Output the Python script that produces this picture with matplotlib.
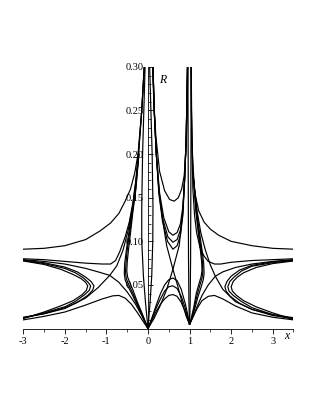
import matplotlib.pyplot as plt
import numpy as np

plt.rcParams['font.family'] = ['Liberation Serif', 'DejaVu Serif']
plt.rcParams['axes.unicode_minus'] = False

# ---- curves, (x, R) pairs ----
# left of x = 0
top_l = [(-3.0, 0.091), (-2.5, 0.092), (-2.0, 0.095), (-1.5, 0.102), (-1.15, 0.112), (-0.9, 0.121),
         (-0.7, 0.132), (-0.55, 0.146), (-0.42, 0.16), (-0.32, 0.178), (-0.24, 0.2), (-0.15, 0.25), (-0.09, 0.30)]
flat_l = [(-3.0, 0.080), (-2.5, 0.079), (-2.0, 0.077), (-1.5, 0.075), (-1.1, 0.074), (-0.9, 0.074),
          (-0.78, 0.078), (-0.68, 0.088), (-0.55, 0.105), (-0.45, 0.122), (-0.36, 0.145), (-0.28, 0.175),
          (-0.22, 0.205), (-0.15, 0.25), (-0.09, 0.30)]
down_l = [(-3.0, 0.079), (-2.5, 0.077), (-2.0, 0.074), (-1.5, 0.069), (-1.2, 0.065), (-0.92, 0.061),
          (-0.7, 0.053), (-0.5, 0.042), (-0.3, 0.028), (-0.15, 0.015), (0.0, 0.0)]
up_l = [(-3.0, 0.013), (-2.5, 0.017), (-2.0, 0.023), (-1.5, 0.035), (-1.2, 0.047), (-0.92, 0.061),
        (-0.75, 0.072), (-0.6, 0.09), (-0.48, 0.112), (-0.38, 0.137), (-0.3, 0.165), (-0.23, 0.2),
        (-0.15, 0.25), (-0.09, 0.30)]
bump_l = [(-3.0, 0.010), (-2.5, 0.014), (-2.0, 0.019), (-1.5, 0.027), (-1.1, 0.034), (-0.85, 0.0375),
          (-0.7, 0.038), (-0.55, 0.035), (-0.4, 0.028), (-0.25, 0.018), (-0.1, 0.007), (0.0, 0.0)]
c_l1 = [(-3.0, 0.0775), (-2.5, 0.0735), (-2.1, 0.068), (-1.8, 0.062), (-1.6, 0.057), (-1.5, 0.053),
        (-1.45, 0.049), (-1.48, 0.044), (-1.58, 0.039), (-1.8, 0.032), (-2.1, 0.026), (-2.5, 0.019), (-3.0, 0.0115)]
c_l2 = [(-3.0, 0.078), (-2.5, 0.0745), (-2.0, 0.069), (-1.75, 0.064), (-1.55, 0.058), (-1.44, 0.053),
        (-1.38, 0.049), (-1.41, 0.044), (-1.52, 0.039), (-1.75, 0.031), (-2.0, 0.025), (-2.5, 0.018), (-3.0, 0.012)]
c_l3 = [(-3.0, 0.0785), (-2.5, 0.0755), (-2.0, 0.0705), (-1.7, 0.065), (-1.5, 0.059), (-1.37, 0.054),
        (-1.30, 0.049), (-1.33, 0.044), (-1.45, 0.038), (-1.7, 0.030), (-2.0, 0.024), (-2.5, 0.017), (-3.0, 0.0125)]
curl_l1 = [(-0.22, 0.2), (-0.3, 0.16), (-0.38, 0.135), (-0.46, 0.11), (-0.52, 0.09), (-0.56, 0.075),
           (-0.57, 0.063), (-0.55, 0.056), (-0.5, 0.050), (-0.4, 0.041), (-0.28, 0.029), (-0.15, 0.016), (0.0, 0.0)]
curl_l2 = [(-0.22, 0.2), (-0.3, 0.16), (-0.37, 0.135), (-0.44, 0.11), (-0.5, 0.09), (-0.53, 0.075),
           (-0.54, 0.064), (-0.52, 0.057), (-0.47, 0.051), (-0.38, 0.042), (-0.27, 0.03), (-0.14, 0.016), (0.0, 0.0)]
curl_l3 = [(-0.22, 0.2), (-0.29, 0.16), (-0.36, 0.135), (-0.42, 0.11), (-0.47, 0.09), (-0.5, 0.076),
           (-0.51, 0.066), (-0.49, 0.059), (-0.44, 0.053), (-0.36, 0.044), (-0.26, 0.031), (-0.13, 0.016), (0.0, 0.0)]
spin0_l = [(0.0, 0.0), (-0.06, 0.03), (-0.11, 0.06), (-0.15, 0.1), (-0.15, 0.14), (-0.13, 0.2),
           (-0.1, 0.25), (-0.07, 0.30)]
spin0_r = [(0.0, 0.0), (0.05, 0.03), (0.09, 0.06), (0.115, 0.1), (0.12, 0.14), (0.1, 0.2),
           (0.07, 0.25), (0.04, 0.30)]

# between x = 0 and x = 1
u_top = [(0.11, 0.30), (0.14, 0.26), (0.19, 0.22), (0.28, 0.18), (0.4, 0.158), (0.52, 0.148), (0.63, 0.146),
         (0.73, 0.150), (0.81, 0.16), (0.87, 0.175), (0.91, 0.20), (0.94, 0.24), (0.96, 0.30)]
u_m1 = [(0.12, 0.30), (0.15, 0.25), (0.2, 0.2), (0.28, 0.155), (0.38, 0.127), (0.5, 0.111), (0.6, 0.107),
        (0.7, 0.110), (0.78, 0.12), (0.84, 0.14), (0.88, 0.17), (0.92, 0.22), (0.95, 0.30)]
u_m2 = [(0.12, 0.30), (0.15, 0.25), (0.2, 0.2), (0.27, 0.155), (0.36, 0.125), (0.48, 0.105), (0.6, 0.099),
        (0.7, 0.102), (0.78, 0.113), (0.84, 0.135), (0.88, 0.17), (0.92, 0.22), (0.95, 0.30)]
u_m3 = [(0.12, 0.30), (0.15, 0.25), (0.2, 0.2), (0.26, 0.155), (0.35, 0.123), (0.47, 0.1), (0.6, 0.091),
        (0.7, 0.095), (0.78, 0.107), (0.84, 0.13), (0.88, 0.17), (0.92, 0.22), (0.95, 0.30)]
x_a = [(0.12, 0.30), (0.15, 0.25), (0.2, 0.2), (0.26, 0.16), (0.35, 0.125), (0.45, 0.095), (0.6, 0.068),
       (0.72, 0.048), (0.82, 0.03), (0.92, 0.014), (1.0, 0.005)]
x_b = [(0.95, 0.30), (0.92, 0.22), (0.88, 0.17), (0.83, 0.13), (0.75, 0.095), (0.6, 0.068), (0.45, 0.045),
       (0.3, 0.027), (0.15, 0.012), (0.0, 0.0)]
b_m1 = [(0.0, 0.0), (0.1, 0.013), (0.2, 0.027), (0.3, 0.040), (0.4, 0.050), (0.5, 0.056), (0.6, 0.058),
        (0.7, 0.055), (0.8, 0.045), (0.9, 0.028), (0.96, 0.015), (1.0, 0.005)]
b_m2 = [(0.0, 0.0), (0.1, 0.012), (0.2, 0.024), (0.3, 0.034), (0.4, 0.043), (0.5, 0.048), (0.6, 0.049),
        (0.7, 0.046), (0.8, 0.037), (0.9, 0.023), (0.96, 0.012), (1.0, 0.005)]
b_m3 = [(0.0, 0.0), (0.1, 0.010), (0.2, 0.020), (0.3, 0.028), (0.4, 0.034), (0.5, 0.038), (0.6, 0.039),
        (0.7, 0.037), (0.8, 0.030), (0.9, 0.019), (0.96, 0.010), (1.0, 0.005)]
spin1_l = [(1.0, 0.005), (0.985, 0.03), (0.975, 0.08), (0.97, 0.15), (0.965, 0.22), (0.96, 0.30)]
spin1_r = [(1.0, 0.005), (1.015, 0.03), (1.025, 0.08), (1.03, 0.15), (1.035, 0.22), (1.035, 0.30)]

# right of x = 1
top_r = [(3.5, 0.091), (3.0, 0.092), (2.5, 0.095), (2.0, 0.100), (1.7, 0.107), (1.5, 0.114), (1.35, 0.122),
         (1.22, 0.135), (1.13, 0.155), (1.08, 0.18), (1.055, 0.22), (1.04, 0.30)]
flat_r = [(3.5, 0.080), (3.0, 0.079), (2.5, 0.078), (2.0, 0.076), (1.75, 0.074), (1.6, 0.074), (1.45, 0.077),
          (1.35, 0.083), (1.25, 0.093), (1.17, 0.11), (1.12, 0.13), (1.08, 0.16), (1.06, 0.2), (1.045, 0.25),
          (1.04, 0.30)]
down_r = [(3.5, 0.079), (3.0, 0.077), (2.5, 0.074), (2.1, 0.07), (1.8, 0.065), (1.62, 0.06), (1.45, 0.05),
          (1.3, 0.038), (1.18, 0.025), (1.08, 0.013), (1.0, 0.005)]
up_r = [(3.5, 0.0125), (3.0, 0.016), (2.5, 0.022), (2.1, 0.031), (1.8, 0.045), (1.62, 0.06), (1.5, 0.073),
        (1.38, 0.09), (1.27, 0.11), (1.18, 0.135), (1.11, 0.165), (1.07, 0.2), (1.045, 0.25), (1.04, 0.30)]
bump_r = [(3.5, 0.010), (3.0, 0.013), (2.5, 0.018), (2.1, 0.026), (1.8, 0.034), (1.6, 0.038), (1.45, 0.037),
          (1.3, 0.032), (1.18, 0.023), (1.08, 0.013), (1.0, 0.005)]
c_r1 = [(3.5, 0.0775), (3.0, 0.0745), (2.6, 0.070), (2.3, 0.064), (2.15, 0.059), (2.05, 0.054), (2.0, 0.048),
        (2.03, 0.043), (2.13, 0.038), (2.3, 0.032), (2.6, 0.025), (3.0, 0.018), (3.5, 0.0105)]
c_r2 = [(3.5, 0.078), (3.0, 0.0755), (2.5, 0.0715), (2.25, 0.066), (2.07, 0.059), (1.97, 0.054), (1.92, 0.048),
        (1.95, 0.043), (2.05, 0.038), (2.25, 0.031), (2.5, 0.024), (3.0, 0.016), (3.5, 0.011)]
c_r3 = [(3.5, 0.0785), (3.0, 0.0765), (2.5, 0.0725), (2.2, 0.067), (2.0, 0.06), (1.9, 0.054), (1.85, 0.048),
        (1.88, 0.043), (1.98, 0.037), (2.2, 0.029), (2.5, 0.022), (3.0, 0.015), (3.5, 0.0115)]
curl_r1 = [(1.1, 0.17), (1.17, 0.135), (1.24, 0.11), (1.3, 0.09), (1.34, 0.075), (1.35, 0.063), (1.33, 0.056),
           (1.28, 0.048), (1.2, 0.036), (1.12, 0.022), (1.05, 0.011), (1.0, 0.005)]
curl_r2 = [(1.1, 0.17), (1.16, 0.135), (1.22, 0.11), (1.28, 0.09), (1.31, 0.076), (1.32, 0.065), (1.3, 0.058),
           (1.25, 0.05), (1.18, 0.038), (1.11, 0.023), (1.05, 0.011), (1.0, 0.005)]
curl_r3 = [(1.1, 0.17), (1.15, 0.135), (1.21, 0.11), (1.26, 0.09), (1.29, 0.077), (1.3, 0.067), (1.28, 0.06),
           (1.23, 0.052), (1.16, 0.04), (1.1, 0.024), (1.04, 0.012), (1.0, 0.005)]

curves = [top_l, flat_l, down_l, up_l, bump_l, c_l1, c_l2, c_l3, curl_l1, curl_l2, curl_l3, spin0_l, spin0_r,
          u_top, u_m1, u_m2, u_m3, x_a, x_b, b_m1, b_m2, b_m3, spin1_l, spin1_r,
          top_r, flat_r, down_r, up_r, bump_r, c_r1, c_r2, c_r3, curl_r1, curl_r2, curl_r3]

fig = plt.figure(figsize=(3.16, 4.09), dpi=100)
ax = fig.add_axes([0.0737, 0.1966, 0.855, 0.640])

for c in curves:
    pts = np.array(c)
    ax.plot(pts[:, 0], pts[:, 1], color='black', lw=0.85, solid_joinstyle='round')

ax.set_xlim(-3, 3.5)
ax.set_ylim(0, 0.30)

# maple style axes: x axis at R=0, y axis at x=0
ax.spines['top'].set_visible(False)
ax.spines['right'].set_visible(False)
ax.spines['left'].set_position(('data', 0))
ax.spines['left'].set_linewidth(0.6)
ax.spines['bottom'].set_linewidth(0.6)

ax.set_xticks([-3, -2, -1, 0, 1, 2, 3])
ax.set_xticklabels(['-3', '-2', '-1', '0', '1', '2', '3'])
ax.set_xticks(np.arange(-3, 3.51, 0.5), minor=True)
ax.set_yticks([0.05, 0.10, 0.15, 0.20, 0.25, 0.30])
ax.set_yticklabels(['0.05', '0.10', '0.15', '0.20', '0.25', '0.30'])
ax.set_yticks(np.arange(0.01, 0.301, 0.01), minor=True)
ax.tick_params(axis='x', which='major', direction='out', length=3.5, width=0.6, labelsize=7.5, pad=2.5)
ax.tick_params(axis='x', which='minor', direction='out', length=2, width=0.5)
ax.tick_params(axis='y', which='major', direction='in', length=3.5, width=0.6, labelsize=7.5, pad=3)
ax.tick_params(axis='y', which='minor', direction='in', length=2, width=0.5)

ax.text(3.27, -0.009, 'x', fontsize=8.5, style='italic', ha='left', va='center')
ax.text(0.27, 0.285, 'R', fontsize=8.5, style='italic', ha='left', va='center')

plt.savefig('out.png', dpi=100)
